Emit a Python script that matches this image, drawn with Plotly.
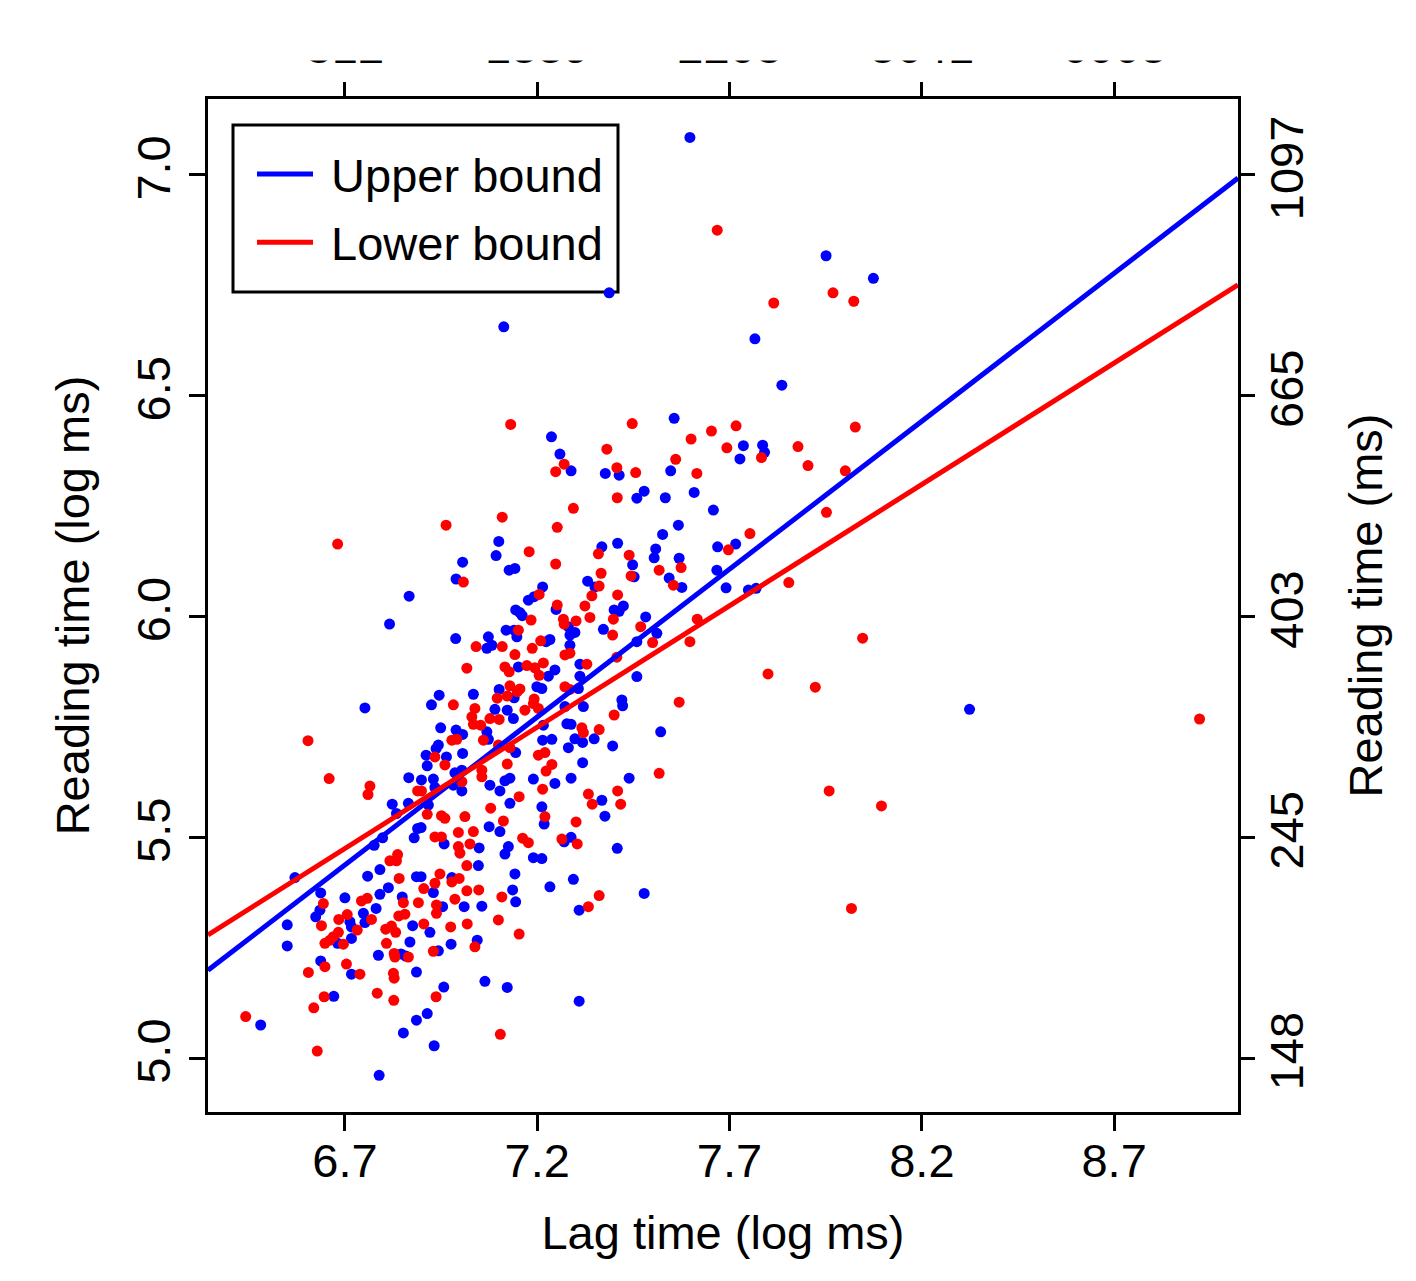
import plotly.graph_objects as go

# ---------------- data (log ms) ----------------
upper_x = [6.867, 6.816, 6.752,
           6.866, 6.823, 6.865, 6.834, 6.889, 6.880, 6.798, 6.776, 6.570, 6.791, 6.759, 6.886, 6.813, 6.791,
           6.637, 6.700, 6.849, 6.781, 6.635, 6.624, 6.748, 6.752, 6.713, 6.717, 6.717, 6.550, 6.876, 6.681,
           6.869, 6.550, 6.787, 6.846, 6.858, 6.637, 6.717, 6.886, 6.671, 6.481, 6.886, 6.852, 6.789,
           7.237, 7.259, 7.100, 7.093, 7.006, 6.989, 7.127, 7.142, 7.214, 7.177, 7.192, 7.249, 7.144, 7.155,
           7.161, 7.119, 7.140, 7.147, 6.988, 7.073, 7.082, 7.069, 7.233, 7.223, 7.151, 7.229, 7.246, 7.101,
           7.034, 6.945, 7.199, 7.212, 7.140,
           6.925, 6.949, 6.989, 7.006, 6.943, 6.937, 6.911, 6.914, 6.964, 7.006, 7.069, 7.073, 7.090, 7.122,
           7.138, 7.216, 7.214, 7.238, 7.144, 6.986, 7.004, 6.899, 6.930, 6.934, 6.982, 7.004, 7.077, 7.103,
           7.116, 7.129, 7.190, 7.246, 7.129, 7.212, 6.917, 6.898, 7.075, 7.103, 7.218, 6.958, 7.049, 7.125,
           7.116, 7.190, 7.212, 7.047, 7.142, 6.978, 6.898, 7.233, 6.930, 7.136,
           6.954, 7.010, 7.056, 7.144, 6.921, 6.976, 7.044, 6.943, 7.064, 7.122, 6.957, 6.914, 6.932,
           7.556, 7.288, 7.377, 7.413, 7.547, 7.478, 7.459, 7.533, 7.608, 7.658, 7.567, 7.526, 7.368, 7.409,
           7.508, 7.504, 7.569, 7.448, 7.452, 7.669, 7.667, 7.543, 7.576, 7.331, 7.350, 7.424, 7.413, 7.400,
           7.482, 7.372, 7.298, 7.285, 7.281, 7.511,
           7.285, 7.311, 7.311, 7.307, 7.459, 7.459, 7.420, 7.422, 7.320, 7.272, 7.277, 7.288, 7.298, 7.318,
           7.348, 7.281, 7.396, 7.521, 7.318, 7.288, 7.439, 7.368, 7.376, 7.288, 7.270, 7.408, 7.294, 7.478,
           7.309, 7.309,
           7.951, 8.074, 7.766, 7.836, 7.736, 7.786, 7.791, 7.727, 7.716,
           7.691, 7.749, 7.769, 8.324,
           7.597, 7.387, 7.113]
upper_y = [6.046, 5.983, 5.793,
           5.635, 5.575, 5.577, 5.554, 5.520, 5.499, 5.499, 5.482, 5.409, 5.427, 5.412, 5.411, 5.386, 5.371,
           5.374, 5.363, 5.365, 5.339, 5.335, 5.320, 5.328, 5.307, 5.309, 5.297, 5.271, 5.302, 5.300, 5.260,
           5.263, 5.254, 5.233, 5.236, 5.231, 5.220, 5.190, 5.195, 5.140, 5.075, 5.086, 5.057, 4.961,
           6.407, 6.368, 6.170, 6.138, 6.123, 6.085, 6.105, 6.109, 6.067, 6.037, 6.045, 6.016, 6.015, 6.009,
           6.002, 5.969, 5.969, 5.954, 5.950, 5.954, 5.935, 5.928, 5.948, 5.943, 5.886, 5.865, 5.879, 5.835,
           5.824, 5.822, 5.841, 5.837, 5.816,
           5.800, 5.748, 5.743, 5.733, 5.709, 5.701, 5.686, 5.662, 5.682, 5.690, 5.739, 5.722, 5.790, 5.788,
           5.769, 5.754, 5.720, 5.722, 5.692, 5.646, 5.652, 5.630, 5.632, 5.613, 5.618, 5.605, 5.618, 5.605,
           5.628, 5.634, 5.632, 5.622, 5.577, 5.569, 5.573, 5.522, 5.524, 5.513, 5.530, 5.485, 5.476, 5.479,
           5.462, 5.454, 5.452, 5.436, 5.417, 5.409, 5.411, 5.388, 5.375, 5.381,
           5.343, 5.343, 5.344, 5.354, 5.285, 5.258, 5.267, 5.243, 5.174, 5.160, 5.161, 5.101, 5.028,
           6.449, 6.330, 6.324, 6.320, 6.330, 6.284, 6.268, 6.269, 6.281, 6.241, 6.207, 6.186, 6.158, 6.166,
           6.153, 6.133, 6.132, 6.117, 6.090, 6.158, 6.105, 6.087, 6.066, 6.080, 6.067, 6.024, 6.012, 6.015,
           5.999, 5.971, 5.964, 5.958, 5.977, 5.962,
           5.935, 5.892, 5.865, 5.837, 5.943, 5.864, 5.811, 5.798, 5.796, 5.796, 5.757, 5.756, 5.723, 5.715,
           5.723, 5.703, 5.707, 5.739, 5.669, 5.634, 5.634, 5.584, 5.548, 5.500, 5.490, 5.475, 5.405, 5.373,
           5.335, 5.129,
           6.817, 6.766, 6.629, 6.524, 6.387, 6.388, 6.372, 6.357, 6.164,
           6.065, 6.060, 6.064, 5.790,
           7.085, 6.733, 6.656]

lower_x = [6.681, 6.604,
           6.659, 6.765, 6.760, 6.889, 6.837, 6.817, 6.834, 6.841, 6.743, 6.758, 6.852, 6.644, 6.891, 6.706,
           6.684, 6.769, 6.840, 6.856, 6.639, 6.732, 6.806, 6.821, 6.832, 6.683, 6.670, 6.661, 6.648, 6.696,
           6.808, 6.828, 6.830, 6.865, 6.648, 6.704, 6.605, 6.739, 6.826, 6.828, 6.646, 6.784, 6.619, 6.827,
           6.442, 6.628,
           7.131, 7.248, 7.109, 6.963, 7.252, 7.179, 7.248, 7.008, 7.205, 7.252, 7.184, 7.151, 7.109, 7.041,
           7.209, 7.187, 7.142, 7.017, 7.116, 7.127, 7.173, 7.194, 7.216, 7.205, 7.129, 7.155, 7.148, 7.096,
           7.122, 7.192,
           6.982, 7.038, 7.030, 7.034, 7.077, 7.101, 7.053, 7.168, 7.190, 7.203, 6.978, 6.991, 7.060, 7.099,
           7.129, 6.934, 6.960, 7.056, 7.056, 7.122, 7.004, 6.899, 7.203, 7.220, 7.238, 7.223, 7.214, 7.153,
           7.079, 6.914, 6.951, 6.960, 7.012, 7.112, 7.220, 6.934, 6.951, 6.995, 7.034, 6.995, 6.999, 7.025,
           7.162, 7.177, 7.017, 6.947, 6.934, 6.978, 6.997, 6.905, 7.017, 7.048, 7.108,
           6.938, 6.938, 6.986, 6.905, 6.975, 7.018, 7.099, 7.153, 6.930, 7.038, 6.937, 7.104,
           7.447, 7.653, 7.600, 7.381, 7.560, 7.270, 7.407, 7.456, 7.615, 7.408, 7.294, 7.359, 7.439, 7.366,
           7.444, 7.517, 7.574, 7.361, 7.342, 7.554, 7.409, 7.324, 7.337, 7.398, 7.301, 7.268, 7.270, 7.469,
           7.396, 7.616,
           7.272, 7.285, 7.329, 7.407, 7.500, 7.597, 7.272, 7.285, 7.569, 7.400, 7.316, 7.320, 7.361, 7.517,
           7.333, 7.343, 7.409, 7.417, 7.301, 7.264, 7.304, 7.361, 7.333,
           7.668, 7.969, 8.023, 7.815, 7.717, 8.027, 7.693, 7.878, 7.783, 7.904, 8.001, 7.952, 7.753, 7.697,
           7.854, 8.046, 7.800, 7.923, 8.922, 7.959, 8.095, 8.017]
lower_y = [6.164, 5.719,
           5.633, 5.616, 5.597, 5.605, 5.461, 5.447, 5.447, 5.407, 5.356, 5.362, 5.352, 5.350, 5.352, 5.325,
           5.314, 5.314, 5.322, 5.326, 5.300, 5.290, 5.292, 5.299, 5.285, 5.285, 5.275, 5.267, 5.260, 5.258,
           5.260, 5.237, 5.229, 5.229, 5.207, 5.213, 5.194, 5.190, 5.192, 5.181, 5.139, 5.147, 5.114, 5.131,
           5.094, 5.016,
           6.435, 6.328, 6.225, 6.207, 6.202, 6.147, 6.119, 6.078, 6.050, 6.026, 5.992, 5.969, 5.932, 5.932,
           5.945, 5.928, 5.914, 5.883, 5.886, 5.875, 5.889, 5.884, 5.895, 5.867, 5.843, 5.836, 5.830, 5.815,
           5.820, 5.813,
           5.800, 5.792, 5.773, 5.756, 5.769, 5.767, 5.754, 5.788, 5.803, 5.792, 5.720, 5.722, 5.720, 5.709,
           5.703, 5.682, 5.664, 5.652, 5.637, 5.666, 5.626, 5.605, 5.686, 5.692, 5.665, 5.650, 5.609, 5.592,
           5.566, 5.552, 5.549, 5.543, 5.547, 5.537, 5.547, 5.501, 5.501, 5.511, 5.513, 5.479, 5.464, 5.485,
           5.498, 5.488, 5.436, 5.417, 5.396, 5.399, 5.407, 5.384, 5.379, 5.381, 5.365,
           5.347, 5.328, 5.360, 5.304, 5.297, 5.304, 5.313, 5.281, 5.242, 5.252, 5.139, 5.054,
           6.437, 6.420, 6.402, 6.379, 6.356, 6.345, 6.337, 6.326, 6.324, 6.269, 6.245, 6.142, 6.139, 6.098,
           6.092, 6.105, 6.111, 6.069, 6.047, 6.071, 6.049, 6.024, 5.998, 5.994, 5.990, 5.994, 5.983, 5.977,
           5.958, 5.994,
           5.913, 5.917, 5.892, 5.908, 5.941, 5.943, 5.841, 5.835, 5.806, 5.777, 5.748, 5.737, 5.744, 5.645,
           5.598, 5.575, 5.605, 5.575, 5.535, 5.496, 5.485, 5.368, 5.343,
           6.875, 6.733, 6.714, 6.710, 6.432, 6.429, 6.382, 6.385, 6.360, 6.342, 6.330, 6.236, 6.188, 6.151,
           6.077, 5.951, 5.870, 5.840, 5.768, 5.605, 5.571, 5.339]

# fitted lines (end points across the plotting range)
upper_line_x = [6.344, 9.022]
upper_line_y = [5.199, 6.993]
lower_line_x = [6.344, 9.022]
lower_line_y = [5.279, 6.751]

# axis ticks
x_ticks = [6.7, 7.2, 7.7, 8.2, 8.7]
x_tick_labels = ["6.7", "7.2", "7.7", "8.2", "8.7"]
top_tick_labels = ["812", "1339", "2208", "3641", "6003"]
y_ticks = [5.0, 5.5, 6.0, 6.5, 7.0]
y_tick_labels = ["5.0", "5.5", "6.0", "6.5", "7.0"]
right_tick_labels = ["148", "245", "403", "665", "1097"]

x_range = [6.344, 9.022]
y_range = [4.878, 7.172]

BLUE = "#0000FF"
RED = "#FF0000"
FONT = "Liberation Sans, Arial, Helvetica, sans-serif"
FS = 47
NB = "\u00a0"

fig = go.Figure()

fig.add_trace(go.Scatter(x=upper_x, y=upper_y, mode="markers",
                         marker=dict(color=BLUE, size=11, line=dict(width=0)),
                         showlegend=False, hoverinfo="skip"))
fig.add_trace(go.Scatter(x=lower_x, y=lower_y, mode="markers",
                         marker=dict(color=RED, size=11, line=dict(width=0)),
                         showlegend=False, hoverinfo="skip"))
fig.add_trace(go.Scatter(x=upper_line_x, y=upper_line_y, mode="lines",
                         line=dict(color=BLUE, width=5), name=NB + "Upper bound",
                         legendgroup="u"))
fig.add_trace(go.Scatter(x=lower_line_x, y=lower_line_y, mode="lines",
                         line=dict(color=RED, width=5), name=NB + "Lower bound",
                         legendgroup="l"))
# invisible traces to activate the top and right axes
fig.add_trace(go.Scatter(x=x_range, y=y_range, xaxis="x2", yaxis="y", mode="markers",
                         marker=dict(opacity=0), showlegend=False, hoverinfo="skip"))
fig.add_trace(go.Scatter(x=x_range, y=y_range, xaxis="x", yaxis="y2", mode="markers",
                         marker=dict(opacity=0), showlegend=False, hoverinfo="skip"))

axis_common = dict(ticks="outside", ticklen=16, tickwidth=2.5, tickcolor="black",
                   showgrid=False, zeroline=False,
                   tickfont=dict(family=FONT, size=FS, color="black"))

fig.update_layout(
    width=1416, height=1281, autosize=False,
    margin=dict(l=208, r=178, t=99, b=169, pad=0),
    plot_bgcolor="white", paper_bgcolor="white",
    font=dict(family=FONT, size=FS, color="black"),
    xaxis=dict(range=x_range, tickvals=x_ticks, ticktext=x_tick_labels,
               showline=True, mirror=True, linecolor="black", linewidth=3,
               ticklabelstandoff=-10,
               title=dict(text="Lag time (log ms)", font=dict(family=FONT, size=FS), standoff=30),
               **axis_common),
    xaxis2=dict(range=x_range, tickvals=x_ticks, ticktext=top_tick_labels,
                overlaying="x", side="top", showline=False, **axis_common),
    yaxis=dict(range=y_range, tickvals=y_ticks, ticktext=y_tick_labels, tickangle=-90,
               showline=True, mirror=True, linecolor="black", linewidth=3,
               title=dict(text="Reading time (log ms)", font=dict(family=FONT, size=FS), standoff=23),
               **axis_common),
    yaxis2=dict(range=y_range, tickvals=y_ticks, ticktext=right_tick_labels, tickangle=-90,
                overlaying="y", side="right", showline=False, ticklabelstandoff=-8,
                title=dict(text="Reading time (ms)", font=dict(family=FONT, size=FS), standoff=36),
                **axis_common),
    legend=dict(x=(252 - 208) / 1030, y=(1112 - 137) / 1013, xanchor="left", yanchor="top",
                borderwidth=0, bgcolor="rgba(0,0,0,0)",
                font=dict(family=FONT, size=FS), itemwidth=56, tracegroupgap=4),
    shapes=[
        dict(type="rect", xref="paper", yref="paper", x0=-0.3, x1=1.3,
             y0=1.038, y1=1.2, fillcolor="white", line=dict(width=0), layer="above"),
        dict(type="rect", xref="paper", yref="paper",
             x0=(233 - 208) / 1030, x1=(618 - 208) / 1030,
             y0=(1112 - 292) / 1013, y1=(1112 - 125) / 1013,
             fillcolor="white", line=dict(color="black", width=3), layer="below"),
    ],
)

fig.write_html("out.html", config={"displayModeBar": False})
